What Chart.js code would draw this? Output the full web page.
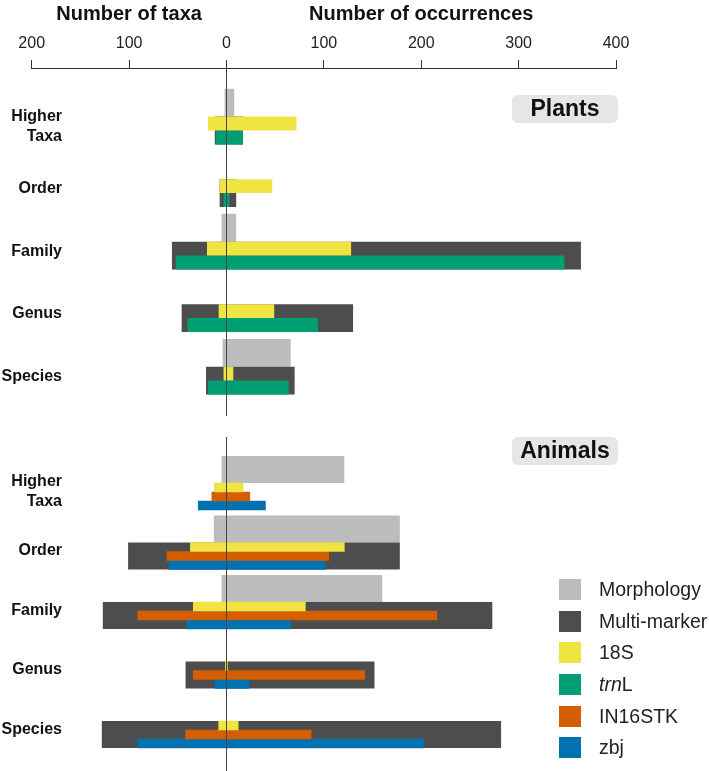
<!DOCTYPE html>
<html><head><meta charset="utf-8">
<script src="https://cdn.jsdelivr.net/npm/chart.js@4.4.1/dist/chart.umd.min.js"></script>
<style>
html,body{margin:0;padding:0;background:#fff;}
#wrap{position:relative;width:709px;height:771px;overflow:hidden;font-family:"Liberation Sans",Arial,Helvetica,sans-serif;}
#c1{position:absolute;left:0;top:0;}
#c2{position:absolute;left:0;top:437px;}
#legend{position:absolute;left:559px;top:574px;}
.row{display:flex;align-items:center;height:31.6px;}
.sw{width:22px;height:21px;margin-right:18px;flex:none;}
.lt{font-size:19.5px;color:#222;line-height:21px;white-space:nowrap;}
</style></head><body>
<div id="wrap">
<canvas id="c1" width="709" height="416"></canvas>
<canvas id="c2" width="709" height="334"></canvas>
<div id="legend"></div>
</div>
<script>
// ---------- data ----------
const ranks = [['Higher','Taxa'], 'Order', 'Family', 'Genus', 'Species'];
const seriesNames  = ['Morphology', 'Multi-marker', '18S', 'trnL', 'IN16STK', 'zbj'];
const seriesColors = ['#bdbdbd', '#4d4d4d', '#f0e442', '#009e73', '#d55e00', '#0072b2'];
const xTicks = [-200, -100, 0, 100, 200, 300, 400];

// Plants: number of taxa (left) and number of occurrences (right)
const plantsMorphologyTaxa = [2, null, 5, null, 4];
const plantsMorphologyOcc  = [8, null, 10, null, 66];
const plantsMultiTaxa      = [12, 7, 56, 46, 21];
const plantsMultiOcc       = [17, 10, 364, 130, 70];
const plants18STaxa        = [19, 7, 20, 8, 3];
const plants18SOcc         = [72, 47, 128, 49, 7];
const plantsTrnLTaxa       = [11, 3, 52, 40, 19];
const plantsTrnLOcc        = [17, 3, 347, 94, 64];

// Animals
const animalsMorphologyTaxa = [5, 13, 5, null, null];
const animalsMorphologyOcc  = [121, 178, 160, null, null];
const animalsMultiTaxa      = [12, 101, 127, 42, 128];
const animalsMultiOcc       = [17, 178, 273, 152, 282];
const animals18STaxa        = [12, 37, 34, 1, 8];
const animals18SOcc         = [17, 121, 81, 1, 12];
const animalsIN16STKTaxa    = [15, 61, 91, 34, 42];
const animalsIN16STKOcc     = [24, 105, 216, 142, 87];
const animalsZbjTaxa        = [29, 59, 41, 12, 91];
const animalsZbjOcc         = [40, 101, 66, 23, 203];

// ---------- helpers ----------
const FONT = '"Liberation Sans", Arial, Helvetica, sans-serif';
Chart.defaults.font.family = FONT;

function colorOf(name){ return seriesColors[seriesNames.indexOf(name)]; }

// builds floating-bar datasets on a linear row axis (units = one marker row)
function buildPanel(morph, multi, markers, gap){
  const n = markers.length;
  const block = 2*n + gap;
  const entries = [];
  entries.push({name:'Morphology', taxa:morph[0], occ:morph[1], off:n/2, thick:n, order:2});
  entries.push({name:'Multi-marker', taxa:multi[0], occ:multi[1], off:n + n/2, thick:n, order:1});
  markers.forEach((m, i) => entries.push({name:m[0], taxa:m[1], occ:m[2], off:n + i + 0.5, thick:1, order:0}));
  const allY = [];
  entries.forEach(e => { e.data = [];
    ranks.forEach((r, k) => {
      if (e.taxa[k] === null || e.occ[k] === null) return;
      const y = k*block + e.off;
      e.data.push({x:[-e.taxa[k], e.occ[k]], y:y});
      allY.push(y);
    });
  });
  const u = [...new Set(allY)].sort((a,b)=>a-b);
  let minGap = Infinity;
  for (let i = 1; i < u.length; i++) minGap = Math.min(minGap, u[i]-u[i-1]);
  const datasets = entries.map(e => ({
    label: e.name, data: e.data, backgroundColor: colorOf(e.name),
    grouped: false, categoryPercentage: e.thick/minGap, barPercentage: 1,
    borderWidth: 0, order: e.order
  }));
  return {datasets, block};
}

const titlePlugin = {
  id: 'axisTitles',
  afterDraw(chart){
    const ctx = chart.ctx, xs = chart.scales.x;
    ctx.save();
    ctx.font = 'bold 20px ' + FONT;
    ctx.fillStyle = '#111';
    ctx.textAlign = 'center';
    ctx.textBaseline = 'alphabetic';
    ctx.fillText('Number of taxa', xs.getPixelForValue(-100), 20);
    ctx.fillText('Number of occurrences', xs.getPixelForValue(200), 20);
    ctx.restore();
  }
};

const panelLabel = {
  id: 'panelLabel',
  afterDraw(chart, args, opts){
    const {ctx, chartArea} = chart;
    const w = 106, h = 28, x = 512, y = chartArea.top + opts.dy;
    ctx.save();
    ctx.fillStyle = '#e6e6e6';
    ctx.beginPath();
    ctx.roundRect(x, y, w, h, 6);
    ctx.fill();
    ctx.fillStyle = '#111';
    ctx.font = 'bold 23px ' + FONT;
    ctx.textAlign = 'center';
    ctx.textBaseline = 'middle';
    ctx.fillText(opts.text, x + w/2, y + h/2 + 1);
    ctx.restore();
  }
};

// rank labels, placed with the row axis
const rankLabels = {
  id: 'rankLabels',
  afterDraw(chart, args, opts){
    const ctx = chart.ctx, ys = chart.scales.y;
    ctx.save();
    ctx.font = 'bold 16px ' + FONT;
    ctx.fillStyle = '#111';
    ctx.textAlign = 'right';
    ctx.textBaseline = 'middle';
    const lh = 20;
    ranks.forEach((r, k) => {
      const lines = Array.isArray(r) ? r : [r];
      const cy = ys.getPixelForValue(opts.pos[k]);
      lines.forEach((t, j) => ctx.fillText(t, opts.x, cy + (j - (lines.length-1)/2) * lh));
    });
    ctx.restore();
  }
};

function makeChart(canvas, panel, yMin, yMax, labelOff, showAxis, label, labelDy){
  const labelPos = ranks.map((r, k) => k*panel.block + labelOff);
  return new Chart(canvas, {
    type: 'bar',
    data: {datasets: panel.datasets},
    options: {
      indexAxis: 'y', responsive: false, animation: false, devicePixelRatio: 1,
      layout: {padding: {left: 0, right: 93, top: 0, bottom: 0}},
      plugins: {legend: {display: false}, tooltip: {enabled: false},
                panelLabel: {text: label, dy: labelDy},
                rankLabels: {pos: labelPos, x: 62}},
      scales: {
        x: {
          type: 'linear', position: 'top', min: xTicks[0], max: xTicks[xTicks.length-1],
          afterFit(s){ s.height = showAxis ? 68 : 0; },
          afterBuildTicks(s){ s.ticks = xTicks.map(v => ({value: v})); },
          ticks: {display: showAxis, callback: v => Math.abs(v), font: {size: 16}, color: '#222', padding: 6.5, autoSkip: false, maxRotation: 0},
          grid: {z: 1, color: c => (c.tick && c.tick.value === 0) ? '#444' : 'rgba(0,0,0,0)', lineWidth: 1,
                 drawTicks: showAxis, tickLength: 8, tickColor: '#333', tickWidth: 1},
          border: {display: showAxis, color: '#333', width: 1, z: 2}
        },
        y: {
          type: 'linear', reverse: true, min: yMin, max: yMax, offset: false, grace: 0,
          afterFit(s){ s.width = 31.7; },
          ticks: {display: false},
          grid: {display: false, offset: false}, border: {display: false}
        }
      }
    },
    plugins: showAxis ? [titlePlugin, panelLabel, rankLabels] : [panelLabel, rankLabels]
  });
}

const plants = buildPanel(
  [plantsMorphologyTaxa, plantsMorphologyOcc],
  [plantsMultiTaxa, plantsMultiOcc],
  [['18S', plants18STaxa, plants18SOcc], ['trnL', plantsTrnLTaxa, plantsTrnLOcc]],
  0.5);
const animals = buildPanel(
  [animalsMorphologyTaxa, animalsMorphologyOcc],
  [animalsMultiTaxa, animalsMultiOcc],
  [['18S', animals18STaxa, animals18SOcc], ['IN16STK', animalsIN16STKTaxa, animalsIN16STKOcc], ['zbj', animalsZbjTaxa, animalsZbjOcc]],
  0.61);

makeChart(document.getElementById('c1'), plants, -1.5, 23.55, 2.7, true, 'Plants', 27);
makeChart(document.getElementById('c2'), animals, -2.11, 35.0, 3.95, false, 'Animals', 0);

// legend
const lg = document.getElementById('legend');
seriesNames.forEach((name, i) => {
  const row = document.createElement('div'); row.className = 'row';
  const sw = document.createElement('div'); sw.className = 'sw'; sw.style.background = seriesColors[i];
  const t = document.createElement('span'); t.className = 'lt';
  if (name.startsWith('trn')) { const it = document.createElement('i'); it.textContent = 'trn'; t.appendChild(it); t.appendChild(document.createTextNode(name.slice(3))); }
  else t.textContent = name;
  row.appendChild(sw); row.appendChild(t); lg.appendChild(row);
});
</script>
</body></html>
